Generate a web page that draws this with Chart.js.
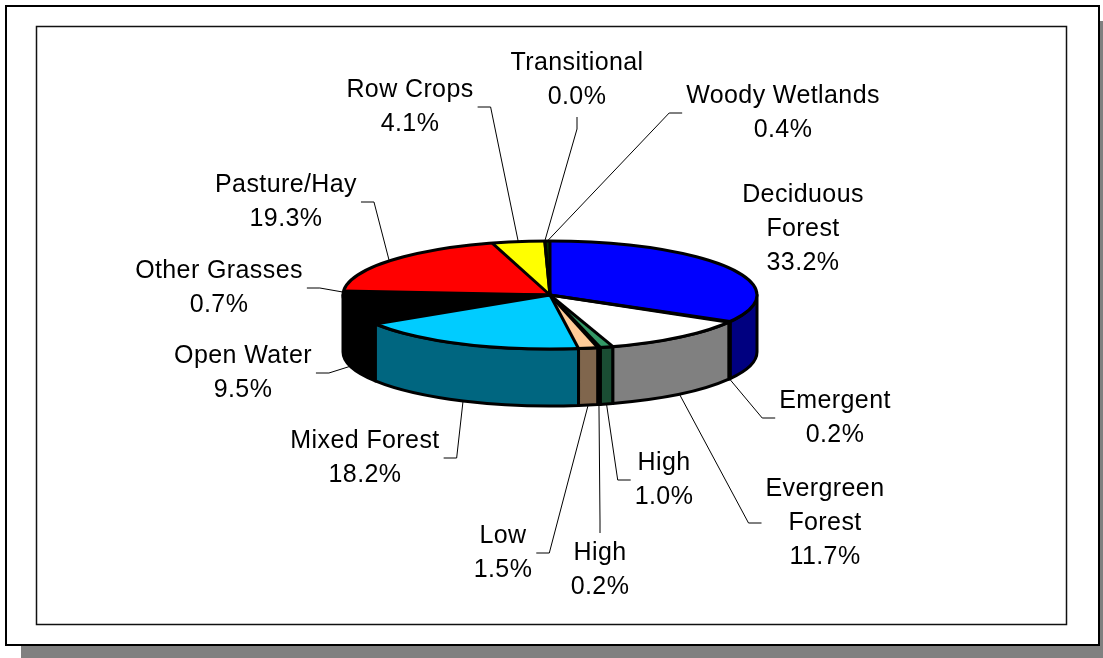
<!DOCTYPE html>
<html>
<head>
<meta charset="utf-8">
<script src="https://cdn.jsdelivr.net/npm/chart.js@4.4.0/dist/chart.umd.min.js"></script>
<style>
html, body { margin: 0; padding: 0; background: #fff; }
canvas { display: block; }
</style>
</head>
<body>
<canvas id="myChart" width="1103" height="658"></canvas>
<script>
// land cover shares, clockwise from 12 o'clock
const categories = ['Deciduous\nForest', 'Emergent', 'Evergreen\nForest', 'High', 'High', 'Low',
  'Mixed Forest', 'Open Water', 'Other Grasses', 'Pasture/Hay', 'Row Crops', 'Transitional', 'Woody Wetlands'];
const shares = [33.2, 0.2, 11.7, 1.0, 0.2, 1.5, 18.2, 9.5, 0.7, 19.3, 4.1, 0.0, 0.4];
const shareLabels = shares.map(v => v.toFixed(1) + '%');

const sliceColors = ['#0000FF', '#000000', '#FFFFFF', '#339966', '#FF99FF', '#FFCC99',
  '#00CCFF', '#000000', '#000000', '#FF0000', '#FFFF00', '#FFFFFF', '#003300'];
// where each label block sits (centre of the text)
const labelSpots = [[803, 229], [835, 418], [825, 523], [664, 480], [600, 570], [503, 553],
  [365, 458], [243, 373], [219, 288], [286, 202], [410, 107], [577, 80], [783, 113]];

const tilt = 54 / 207;
const depth = 57;
const lineH = 34;

function darker(hex) {
  const n = parseInt(hex.slice(1), 16);
  const r = (n >> 16) & 255, g = (n >> 8) & 255, b = n & 255;
  return 'rgb(' + Math.round(r / 2) + ',' + Math.round(g / 2) + ',' + Math.round(b / 2) + ')';
}

const frame = {
  id: 'frame',
  beforeDraw(chart) {
    const ctx = chart.ctx;
    ctx.save();
    ctx.fillStyle = '#808080';
    ctx.fillRect(21, 21, 1103 - 21, 658 - 21);
    ctx.fillStyle = '#fff';
    ctx.fillRect(5, 5, 1095, 641);
    ctx.strokeStyle = '#000';
    ctx.lineWidth = 2;
    ctx.strokeRect(6, 6, 1093, 639);
    ctx.lineWidth = 1.5;
    ctx.strokeStyle = '#111';
    ctx.strokeRect(36.5, 26.5, 1030, 598);
    ctx.restore();
  }
};

const pie3d = {
  id: 'pie3d',
  beforeDatasetsDraw(chart) {
    const ctx = chart.ctx;
    const arcs = chart.getDatasetMeta(0).data;
    const cx = arcs[0].x, cy = arcs[0].y, r = arcs[0].outerRadius;
    const ry = r * tilt;
    ctx.save();
    ctx.lineWidth = 3;
    ctx.lineJoin = 'round';
    ctx.strokeStyle = '#000';
    arcs.forEach((arc, i) => {
      const a1 = Math.max(arc.startAngle, 0), a2 = Math.min(arc.endAngle, Math.PI);
      if (a2 <= a1) return;
      ctx.beginPath();
      ctx.ellipse(cx, cy, r, ry, 0, a1, a2);
      ctx.ellipse(cx, cy + depth, r, ry, 0, a2, a1, true);
      ctx.closePath();
      ctx.fillStyle = darker(sliceColors[i]);
      ctx.fill();
      ctx.stroke();
    });
    ctx.restore();
    // squash the flat pie into the top face
    ctx.save();
    ctx.translate(cx, cy);
    ctx.scale(1, tilt);
    ctx.translate(-cx, -cy);
  },
  afterDatasetsDraw(chart) {
    const ctx = chart.ctx;
    ctx.restore();
    const arcs = chart.getDatasetMeta(0).data;
    const cx = arcs[0].x, cy = arcs[0].y, r = arcs[0].outerRadius;
    const ry = r * tilt;
    ctx.save();
    ctx.lineWidth = 3;
    ctx.lineJoin = 'round';
    ctx.strokeStyle = '#000';
    arcs.forEach(arc => {
      ctx.beginPath();
      ctx.moveTo(cx, cy);
      ctx.lineTo(cx + r * Math.cos(arc.startAngle), cy + ry * Math.sin(arc.startAngle));
      ctx.stroke();
    });
    ctx.beginPath();
    ctx.ellipse(cx, cy, r, ry, 0, 0, Math.PI * 2);
    ctx.stroke();

    // labels and leader lines
    ctx.font = '25px "Liberation Sans", Arial, sans-serif';
    ctx.letterSpacing = '0.4px';
    ctx.fillStyle = '#000';
    ctx.textAlign = 'center';
    ctx.textBaseline = 'middle';
    ctx.lineWidth = 1;
    arcs.forEach((arc, i) => {
      const lines = categories[i].split('\n').concat([shareLabels[i]]);
      const [lx, ly] = labelSpots[i];
      const top = ly - lines.length * lineH / 2;
      let w = 0;
      lines.forEach((t, k) => {
        ctx.fillText(t, lx, top + lineH * (k + 0.5));
        w = Math.max(w, ctx.measureText(t).width);
      });
      const mid = (arc.startAngle + arc.endAngle) / 2;
      const ax = cx + r * Math.cos(mid);
      const ay = cy + ry * Math.sin(mid) + (Math.sin(mid) > 0 ? depth : 0);
      const hw = w / 2, hh = lines.length * lineH / 2;
      const gx = Math.max(Math.abs(ax - lx) - hw, 0), gy = Math.max(Math.abs(ay - ly) - hh, 0);
      if (Math.hypot(gx, gy) < 25) return;
      let p0, p1;
      if (Math.abs(ax - lx) > hw + 10) {
        const s = Math.sign(ax - lx);
        p0 = [lx + s * (hw + 4), ly];
        p1 = [p0[0] + s * 13, ly];
      } else {
        const s = Math.sign(ay - ly);
        p0 = [lx, ly + s * (hh + 3)];
        p1 = [lx, p0[1] + s * 12];
      }
      ctx.beginPath();
      ctx.moveTo(p0[0], p0[1]);
      ctx.lineTo(p1[0], p1[1]);
      ctx.lineTo(ax, ay);
      ctx.stroke();
    });
    ctx.restore();
  }
};

new Chart(document.getElementById('myChart'), {
  type: 'pie',
  data: {
    labels: categories,
    datasets: [{
      data: shares,
      backgroundColor: sliceColors,
      borderWidth: 0,
      clip: false
    }]
  },
  options: {
    responsive: false,
    animation: false,
    events: [],
    layout: { padding: { left: 343, right: 346, top: 88, bottom: 156 } },
    plugins: { legend: { display: false }, tooltip: { enabled: false } }
  },
  plugins: [frame, pie3d]
});
</script>
</body>
</html>
